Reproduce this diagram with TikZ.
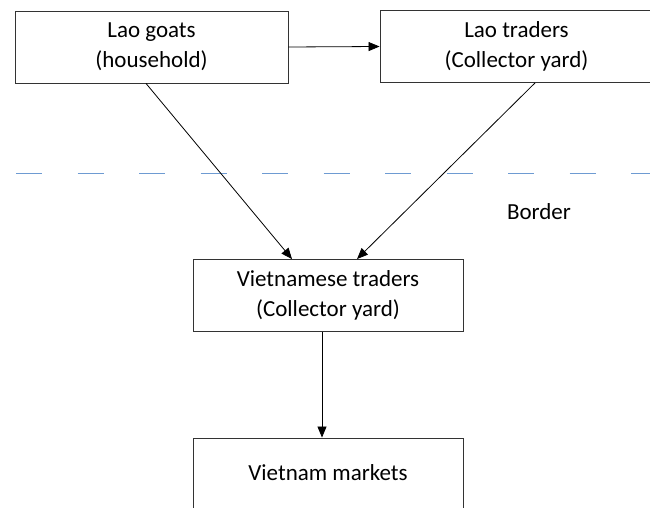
\documentclass[tikz,border=0pt]{standalone}
\usepackage{fontspec}
\setmainfont{Carlito}
\usetikzlibrary{arrows.meta}
\begin{document}
\begin{tikzpicture}[x=1pt,y=-1pt,
  box/.style={draw=black!80, line width=0.9pt, rectangle, minimum width=#1,
    minimum height=72pt, align=center, inner sep=0pt,
    font=\fontsize{23}{30}\selectfont},
  box/.default=273pt,
  flow/.style={draw=black, line width=0.8pt, -{Triangle[length=11pt,width=9pt]}},
  borderline/.style={draw={rgb,255:red,110;green,155;blue,210}, line width=1pt,
    dash pattern=on 26pt off 35.5pt},
  lbl/.style={font=\fontsize{23}{30}\selectfont, inner sep=0pt}
]
\useasboundingbox (0,0) rectangle (650,508);
\clip (0,0) rectangle (650,508);

% actors along the trade chain
\node[box] (goats) at (151.5,47) {Lao goats\\(household)};
\node[box] (laotr) at (516.5,46.5) {Lao traders\\(Collector yard)};
\node[box=270pt] (vntr) at (328,295.5) {Vietnamese traders\\(Collector yard)};
\node[box=270pt, minimum height=110pt] (vnmk) at (328,493) {};
\node[lbl] (vnmktxt) at (328,473) {Vietnam markets};

% national border
\coordinate (bl) at (16,173.5);
\coordinate (br) at (660,173.5);
\draw[borderline] (bl) -- (br);
\node[lbl] (border) at (539,212) {Border};

% flows
\draw[flow] (goats.east) -- (laotr.west);
\draw[flow] ([xshift=-5.5pt]goats.south) -- ([xshift=-36pt]vntr.north);
\draw[flow] ([xshift=18.5pt]laotr.south) -- ([xshift=29pt]vntr.north);
\draw[flow] ([xshift=-6pt]vntr.south) -- ([xshift=-6pt]vnmk.north);
\end{tikzpicture}
\end{document}
